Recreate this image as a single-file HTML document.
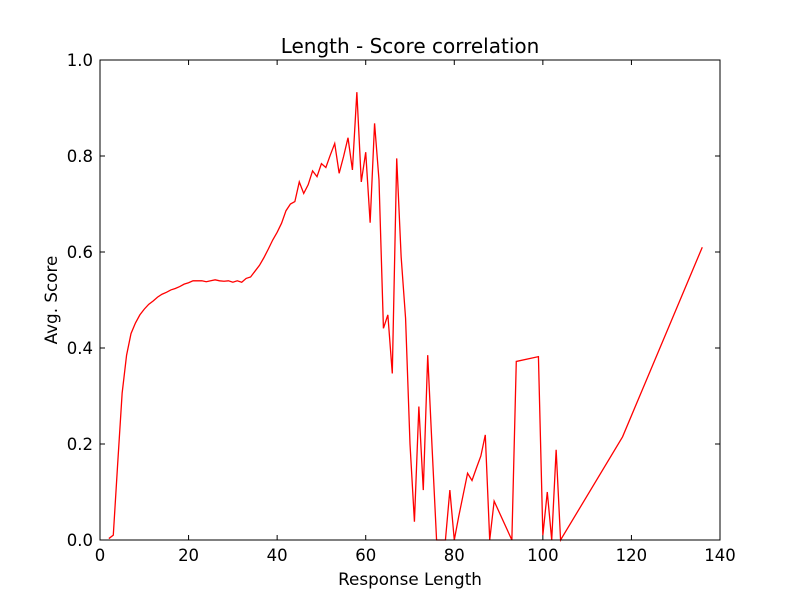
<!DOCTYPE html>
<html><head><meta charset="utf-8"><style>
body{margin:0;background:#fff}
text{font-family:"DejaVu Sans","Liberation Sans",sans-serif;fill:#000}
</style></head><body>
<svg id="chart" width="800" height="600" xmlns="http://www.w3.org/2000/svg">
<rect width="800" height="600" fill="#fff"/>
<text x="410" y="53" font-size="20" text-anchor="middle">Length - Score correlation</text>
<g id="ticks"></g>
<polyline id="line" fill="none" stroke="#ff0000" stroke-width="1.3"/>
<rect x="100" y="60" width="620" height="480" fill="none" stroke="#000" stroke-width="1"/>
<text x="410" y="585" font-size="16.8" text-anchor="middle">Response Length</text>
<text x="57" y="300" font-size="16.8" text-anchor="middle" transform="rotate(-90 57 300)">Avg. Score</text>
</svg>
<script>
const xs=[2,3,4,5,6,7,8,9,10,11,12,13,14,15,16,17,18,19,20,21,22,23,24,25,26,27,28,29,30,31,32,33,34,35,36,37,38,39,40,41,42,43,44,45,46,47,48,49,50,51,52,53,54,55,56,57,58,59,60,61,62,63,64,65,66,67,68,69,70,71,72,73,74,75,76,77,78,79,80,81,82,83,84,85,86,87,88,89,93,94,99,100,101,102,103,104,118,136];
const ys=[0.003,0.01,0.16,0.306,0.385,0.43,0.452,0.469,0.481,0.491,0.498,0.506,0.512,0.516,0.521,0.524,0.528,0.533,0.536,0.54,0.54,0.54,0.538,0.54,0.542,0.54,0.539,0.54,0.537,0.54,0.537,0.545,0.548,0.56,0.572,0.588,0.606,0.625,0.641,0.66,0.686,0.7,0.705,0.746,0.722,0.74,0.769,0.757,0.784,0.776,0.802,0.826,0.764,0.799,0.838,0.771,0.933,0.746,0.808,0.661,0.868,0.75,0.441,0.469,0.347,0.795,0.59,0.462,0.2,0.038,0.278,0.104,0.385,0.19,0,0,0,0.104,0,0.049,0.094,0.139,0.124,0.15,0.175,0.219,0,0.081,0,0.372,0.382,0.01,0.1,0,0.188,0,0.215,0.61];
const xTicks=[0,20,40,60,80,100,120,140];
const yTicks=[0.0,0.2,0.4,0.6,0.8,1.0];
const X=v=>100+v*620/140, Y=v=>540-v*480;
document.getElementById('line').setAttribute('points',xs.map((x,i)=>X(x)+','+Y(ys[i])).join(' '));
const g=document.getElementById('ticks');
const NS='http://www.w3.org/2000/svg';
function ln(x1,y1,x2,y2){const l=document.createElementNS(NS,'line');l.setAttribute('x1',x1);l.setAttribute('y1',y1);l.setAttribute('x2',x2);l.setAttribute('y2',y2);l.setAttribute('stroke','#000');


g.appendChild(l);}
xTicks.forEach(t=>{const x=X(t);ln(x,540,x,535);ln(x,60,x,65);
const s=document.createElementNS(NS,'text');s.setAttribute('x',x);s.setAttribute('y',561);s.setAttribute('font-size','16.5');s.setAttribute('text-anchor','middle');s.textContent=t;


g.appendChild(s);});
yTicks.forEach(t=>{const y=Y(t);ln(100,y,105,y);ln(720,y,715,y);
const s=document.createElementNS(NS,'text');s.setAttribute('x',93);s.setAttribute('y',y+6);s.setAttribute('font-size','16.5');s.setAttribute('text-anchor','end');s.textContent=t.toFixed(1);


g.appendChild(s);});
</script>
</body></html>
